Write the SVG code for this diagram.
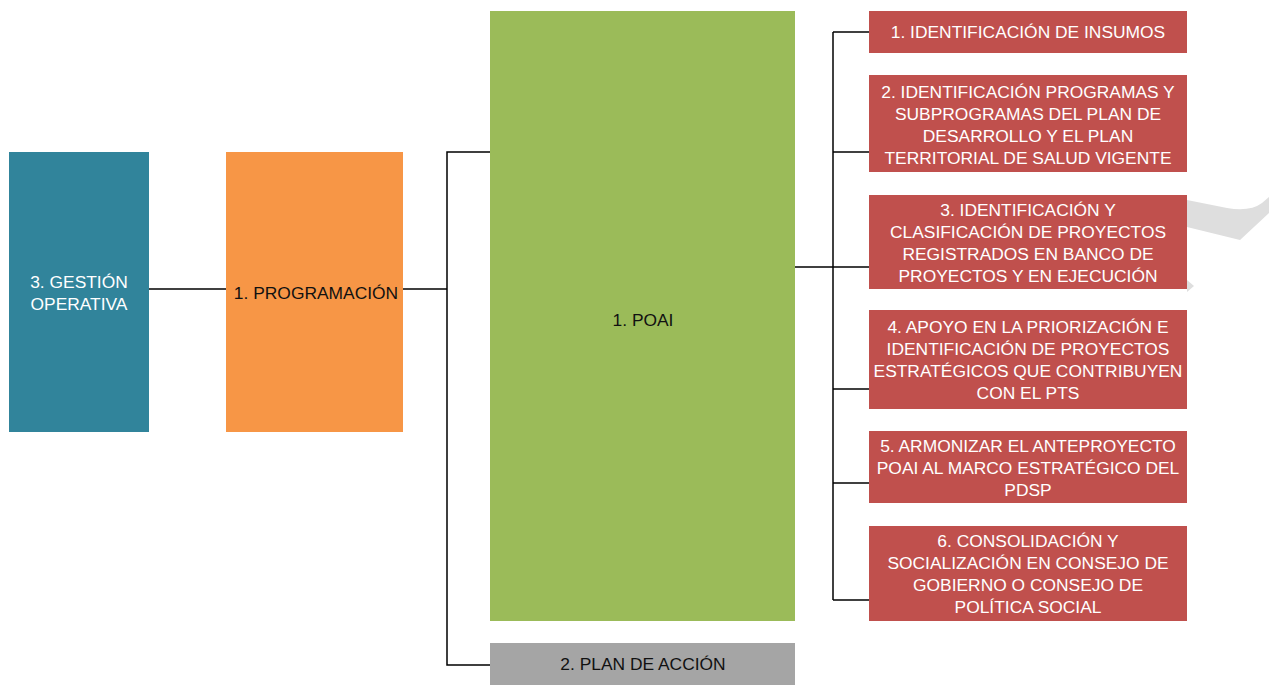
<svg xmlns="http://www.w3.org/2000/svg" width="1269" height="685" viewBox="0 0 1269 685">
  <style>
    text { font-family: "Liberation Sans", Arial, sans-serif; font-size: 17.4px; text-anchor: middle; }
    .light { fill: #ffffff; }
    .dark { fill: #111111; }
    .conn { fill: none; stroke: #000000; stroke-width: 1.5; }
    .task rect { fill: #C0504D; }
  </style>
  <rect width="1269" height="685" fill="#ffffff"/>

  <!-- faint decorative band at the right margin -->
  <g id="backdrop" fill="#DEDEDE">
    <path d="M1187,200 L1227,208 Q1250,212 1262,203 L1269,197 L1269,213 L1240,240 L1187,227 Z"/>
    <path d="M1187,280 L1194,286 L1187,292 Z"/>
  </g>

  <g id="connectors" class="conn">
    <line x1="149" y1="289" x2="226" y2="289"/>
    <polyline points="403,289 447,289"/>
    <polyline points="490,152 447,152 447,665 490,665"/>
    <line x1="795" y1="267" x2="833" y2="267"/>
    <line x1="833" y1="32" x2="833" y2="600"/>
    <line x1="833" y1="32" x2="869" y2="32"/>
    <line x1="833" y1="152" x2="869" y2="152"/>
    <line x1="833" y1="267" x2="869" y2="267"/>
    <line x1="833" y1="389" x2="869" y2="389"/>
    <line x1="833" y1="483" x2="869" y2="483"/>
    <line x1="833" y1="600" x2="869" y2="600"/>
  </g>

  <g id="gestion">
    <rect x="9" y="152" width="140" height="280" fill="#31849B"/>
    <text class="light" x="79" y="288">3. GESTIÓN</text>
    <text class="light" x="79" y="310">OPERATIVA</text>
  </g>

  <g id="programacion">
    <rect x="226" y="152" width="177" height="280" fill="#F79646"/>
    <text class="dark" x="316" y="299">1. PROGRAMACIÓN</text>
  </g>

  <g id="poai">
    <rect x="490" y="11" width="305" height="610" fill="#9BBB59"/>
    <text class="dark" x="643" y="326">1. POAI</text>
  </g>

  <g id="plan-accion">
    <rect x="490" y="643" width="305" height="42" fill="#A5A5A5"/>
    <text class="dark" x="643" y="670">2. PLAN DE ACCIÓN</text>
  </g>

  <g id="task1" class="task">
    <rect x="869" y="11" width="318" height="42"/>
    <text class="light" x="1028" y="38">1. IDENTIFICACIÓN DE INSUMOS</text>
  </g>

  <g id="task2" class="task">
    <rect x="869" y="75" width="318" height="97"/>
    <text class="light" x="1028" y="98">2. IDENTIFICACIÓN PROGRAMAS Y</text>
    <text class="light" x="1028" y="120">SUBPROGRAMAS DEL PLAN DE</text>
    <text class="light" x="1028" y="142">DESARROLLO Y EL PLAN</text>
    <text class="light" x="1028" y="164">TERRITORIAL DE SALUD VIGENTE</text>
  </g>

  <g id="task3" class="task">
    <rect x="869" y="195" width="318" height="94"/>
    <text class="light" x="1028" y="216">3. IDENTIFICACIÓN Y</text>
    <text class="light" x="1028" y="238">CLASIFICACIÓN DE PROYECTOS</text>
    <text class="light" x="1028" y="260">REGISTRADOS EN BANCO DE</text>
    <text class="light" x="1028" y="282">PROYECTOS Y EN EJECUCIÓN</text>
  </g>

  <g id="task4" class="task">
    <rect x="869" y="310" width="318" height="99"/>
    <text class="light" x="1028" y="333">4. APOYO EN LA PRIORIZACIÓN E</text>
    <text class="light" x="1028" y="355">IDENTIFICACIÓN DE PROYECTOS</text>
    <text class="light" x="1028" y="377">ESTRATÉGICOS QUE CONTRIBUYEN</text>
    <text class="light" x="1028" y="399">CON EL PTS</text>
  </g>

  <g id="task5" class="task">
    <rect x="869" y="431" width="318" height="72"/>
    <text class="light" x="1028" y="452">5. ARMONIZAR EL ANTEPROYECTO</text>
    <text class="light" x="1028" y="474">POAI AL MARCO ESTRATÉGICO DEL</text>
    <text class="light" x="1028" y="496">PDSP</text>
  </g>

  <g id="task6" class="task">
    <rect x="869" y="526" width="318" height="95"/>
    <text class="light" x="1028" y="547">6. CONSOLIDACIÓN Y</text>
    <text class="light" x="1028" y="569">SOCIALIZACIÓN EN CONSEJO DE</text>
    <text class="light" x="1028" y="591">GOBIERNO O CONSEJO DE</text>
    <text class="light" x="1028" y="613">POLÍTICA SOCIAL</text>
  </g>
</svg>
